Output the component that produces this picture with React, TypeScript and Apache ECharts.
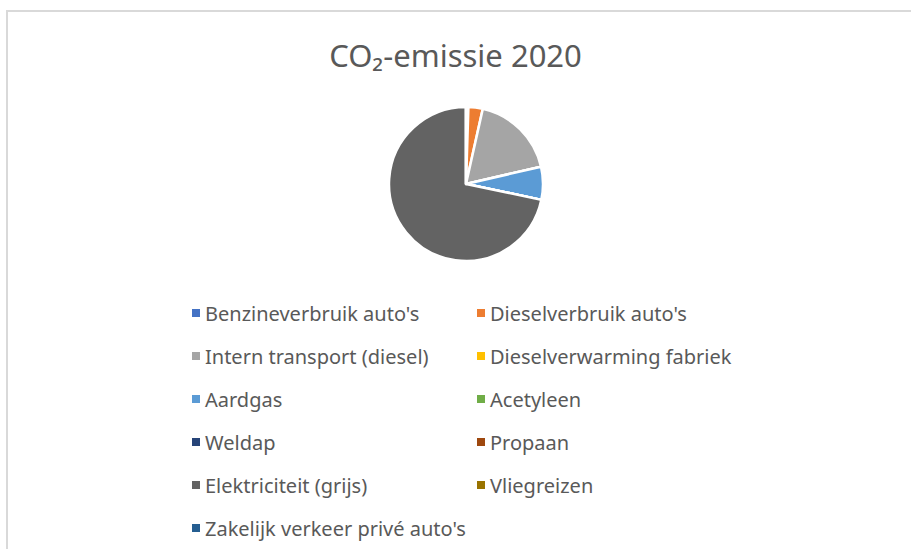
import React, { useEffect, useRef } from "react";
import * as echarts from "echarts";

const categories = [
  "Benzineverbruik auto's",
  "Dieselverbruik auto's",
  "Intern transport (diesel)",
  "Dieselverwarming fabriek",
  "Aardgas",
  "Acetyleen",
  "Weldap",
  "Propaan",
  "Elektriciteit (grijs)",
  "Vliegreizen",
  "Zakelijk verkeer privé auto's",
];
const values = [0.5, 3.0, 17.9, 0, 6.9, 0, 0, 0, 71.7, 0, 0];
const colors = [
  "#4472C4",
  "#ED7D31",
  "#A5A5A5",
  "#FFC000",
  "#5B9BD5",
  "#70AD47",
  "#264478",
  "#9E480E",
  "#636363",
  "#997300",
  "#255E91",
];
const titleText = "CO₂-emissie 2020";

export default function App() {
  const ref = useRef<HTMLDivElement>(null);
  useEffect(() => {
    if (!ref.current) return;
    const chart = echarts.init(ref.current, undefined, { renderer: "svg" });
    const font = "Noto Sans";
    const legendCommon = {
      orient: "vertical" as const,
      icon: "rect",
      itemWidth: 8,
      itemHeight: 8,
      itemGap: 23,
      itemTextGap: 10,
      selectedMode: false,
      itemStyle: { borderWidth: 0 },
      textStyle: { fontFamily: font, fontSize: 20, color: "#595959", lineHeight: 20 },
      top: 303,
      padding: 0,
    };
    chart.setOption({
      animation: false,
      color: colors,
      title: {
        text: titleText,
        left: "center",
        top: 34,
        textStyle: { fontFamily: font, fontSize: 31, fontWeight: "normal", color: "#595959" },
      },
      graphic: [
        {
          type: "rect",
          shape: { x: 7, y: 11, width: 1000, height: 1000 },
          style: { fill: "none", stroke: "#d9d9d9", lineWidth: 2 },
          silent: true,
        },
      ],
      legend: [
        { ...legendCommon, left: 192, data: categories.filter((_, i) => i % 2 === 0) },
        { ...legendCommon, left: 477, data: categories.filter((_, i) => i % 2 === 1) },
      ],
      series: [
        {
          type: "pie",
          center: [466, 184],
          radius: [0, 77],
          startAngle: 90,
          clockwise: true,
          label: { show: false },
          labelLine: { show: false },
          emphasis: { disabled: true },
          itemStyle: { borderColor: "#ffffff", borderWidth: 2.5 },
          data: categories.map((name, i) => ({ name, value: values[i] })),
        },
      ],
    });
    return () => chart.dispose();
  }, []);
  return (
    <div
      ref={ref}
      style={{ position: "fixed", left: 0, top: 0, width: 911, height: 549, background: "#fff" }}
    />
  );
}
